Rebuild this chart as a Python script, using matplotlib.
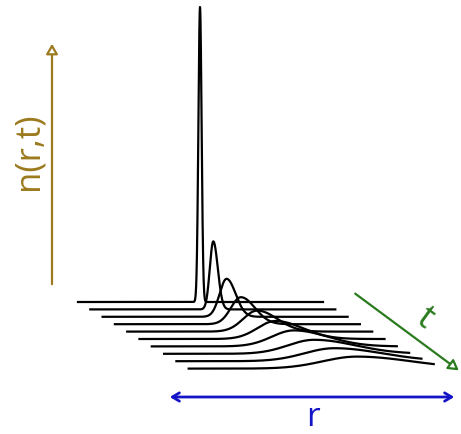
import numpy as np
import matplotlib
matplotlib.use("Agg")
import matplotlib.pyplot as plt

# Waterfall of density profiles n(r, t): one curve per time step
peak_height = [295, 68, 38, 27, 21, 18, 16, 14, 13, 12]
peak_pos = [122, 123, 124, 126, 130, 136, 142, 150, 158, 168]
width_left = [1.6, 3.5, 7, 10, 14, 18, 22, 26, 30, 34]
width_right = [1.6, 4.5, 9, 14, 20, 27, 34, 41, 48, 55]

r_length = 245
r = np.linspace(0, r_length, 3000)

# layout of the stack (pixel units)
x_start, y_start = 78, 303
dx, dy = 12.3, 7.4

fig = plt.figure(figsize=(4.61, 4.35), dpi=100)
ax = fig.add_axes([0, 0, 1, 1])
ax.set_xlim(0, 461)
ax.set_ylim(435, 0)
ax.axis("off")

for i in range(len(peak_height)):
    sig = np.where(r < peak_pos[i], width_left[i], width_right[i])
    n = peak_height[i] * np.exp(-0.5 * ((r - peak_pos[i]) / sig) ** 2)
    ax.plot(x_start + i * dx + r, y_start + i * dy - n, color="black", lw=1.6)

# n axis
olive = "#9C7A1E"
ax.annotate("", xy=(52, 42), xytext=(52, 288),
            arrowprops=dict(arrowstyle="-|>,head_length=0.6,head_width=0.35",
                            color=olive, lw=1.6, fc="white"))
ax.text(29, 151, "n(r,t)", color=olive, fontsize=25, rotation=90,
        ha="center", va="center", family="Open Sans")

# t axis
green = "#2A7A1E"
ax.annotate("", xy=(461, 373), xytext=(353, 293),
            arrowprops=dict(arrowstyle="-|>,head_length=0.6,head_width=0.35",
                            color=green, lw=1.6, fc="white"))
ax.text(425, 318, "t", color=green, fontsize=25, rotation=-36,
        ha="center", va="center", family="Open Sans")

# r axis
blue = "#1515C8"
ax.annotate("", xy=(457, 398), xytext=(167, 398),
            arrowprops=dict(arrowstyle="<->,head_length=0.5,head_width=0.3",
                            color=blue, lw=2))
ax.text(313, 426, "r", color=blue, fontsize=24,
        ha="center", va="baseline", family="Open Sans")

fig.savefig("out.png", dpi=100)
